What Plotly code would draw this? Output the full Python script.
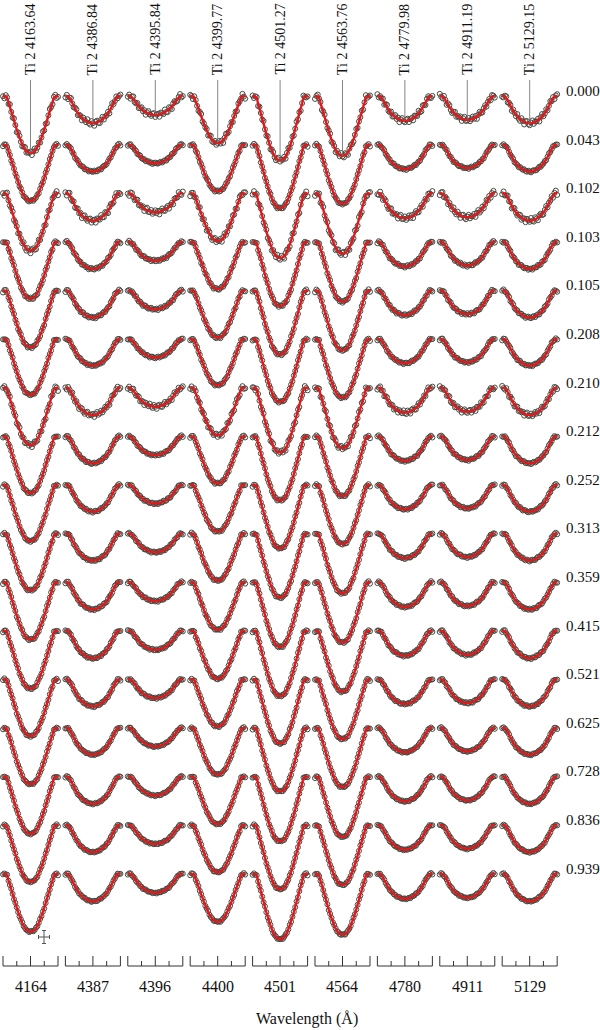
import numpy as np
import plotly.graph_objects as go

# ---------------- data ----------------
LINE_LABELS = ["Ti 2 4163.64", "Ti 2 4386.84", "Ti 2 4395.84", "Ti 2 4399.77", "Ti 2 4501.27",
               "Ti 2 4563.76", "Ti 2 4779.98", "Ti 2 4911.19", "Ti 2 5129.15"]
TICK_LABELS = ["4164", "4387", "4396", "4400", "4501", "4564", "4780", "4911", "5129"]
PHASES = ["0.000", "0.043", "0.102", "0.103", "0.105", "0.208", "0.210", "0.212", "0.252",
          "0.313", "0.359", "0.415", "0.521", "0.625", "0.728", "0.836", "0.939"]

# central depth of each line (normalised flux)
LINE_DEPTHS = [0.117, 0.056, 0.039, 0.097, 0.132, 0.123, 0.051, 0.049, 0.056]
LINE_TEMPLATE = ["deep", "shallow", "shallow", "deep", "deep", "deep", "shallow", "shallow", "shallow"]

# half profiles (relative depth) at dlam = -1.00, -0.95, ..., 0.00 A
DEEP_HALF = [0.02, 0.00, 0.01, 0.03, 0.12, 0.19, 0.27, 0.35, 0.43, 0.51, 0.59,
             0.66, 0.73, 0.79, 0.85, 0.90, 0.94, 0.97, 0.99, 0.998, 1.0]
SHALLOW_HALF = [0.02, 0.00, 0.02, 0.08, 0.16, 0.26, 0.36, 0.46, 0.55, 0.63, 0.70,
                0.76, 0.81, 0.85, 0.89, 0.92, 0.95, 0.97, 0.985, 0.997, 1.0]

# per-phase depth factor
DEPTH_SCALE = [1.00, 0.99, 1.01, 1.00, 1.00, 0.98, 1.01, 1.00, 0.99, 1.00, 1.01, 1.02,
               1.00, 0.99, 1.01, 1.00, 1.02]

# observed-minus-model residual pattern and its size per phase
RESID_PATTERN = [0.3, -0.8, 0.5, 0.1, -0.4, 0.9, -0.2, -0.6, 0.7, 0.0, -0.9, 0.4, 0.6, -0.3,
                 -0.7, 0.2, 0.8, -0.5, 0.1, -0.1, 0.5, -0.8, 0.3, 0.9, -0.4, -0.2, 0.6, -0.6,
                 0.0, 0.7, -0.3, 0.4, -0.9, 0.2, 0.8, -0.1, -0.5, 0.3, 0.6, -0.7, 0.1]
RESID_AMP = [0.006, 0.002, 0.006, 0.0025, 0.0025, 0.002, 0.005, 0.002, 0.002, 0.002, 0.002,
             0.002, 0.002, 0.0015, 0.0015, 0.0015, 0.0015]

# wavelength offset grid within each panel (A)
DLAM = np.linspace(-1.0, 1.0, 41)

# ---------------- layout constants ----------------
COL_STEP = 2.269     # panel spacing in plot units
ROW_STEP = 0.1       # vertical offset between phases
PX_X = 27.5          # px per plot x unit
PX_Y = 486.0         # px per flux unit
X0_PX = 30.5
Y0_PX = 96.0

def xr(px):
    return (px - X0_PX) / PX_X

def yr(px):
    return 1.0 - (px - Y0_PX) / PX_Y

TEMPLATES = {
    "deep": np.array(DEEP_HALF + DEEP_HALF[-2::-1]),
    "shallow": np.array(SHALLOW_HALF + SHALLOW_HALF[-2::-1]),
}

obs_x, obs_y, mod_x, mod_y = [], [], [], []
for r in range(len(PHASES)):
    cont = 1.0 - ROW_STEP * r
    for c in range(len(LINE_LABELS)):
        xc = c * COL_STEP
        model = cont - LINE_DEPTHS[c] * DEPTH_SCALE[r] * TEMPLATES[LINE_TEMPLATE[c]]
        resid = np.roll(np.array(RESID_PATTERN), 5 * r + 11 * c) * RESID_AMP[r]
        obs = model + resid
        mod_x += list(xc + DLAM) + [None]
        mod_y += list(model) + [None]
        obs_x += list(xc + DLAM) + [None]
        obs_y += list(obs) + [None]

fig = go.Figure()
fig.add_trace(go.Scatter(x=obs_x, y=obs_y, mode="markers",
                         marker=dict(symbol="circle-open", size=5, color="#474a42",
                                     line=dict(width=1, color="#474a42")),
                         hoverinfo="skip", showlegend=False))
fig.add_trace(go.Scatter(x=mod_x, y=mod_y, mode="lines", line_shape="spline",
                         line=dict(color="#e2191c", width=2.4),
                         hoverinfo="skip", showlegend=False))

# leader lines from labels to line cores
lx, ly = [], []
for c in range(len(LINE_LABELS)):
    xc = c * COL_STEP
    lx += [xc, xc, None]
    ly += [yr(80), 1.0 - LINE_DEPTHS[c] * DEPTH_SCALE[0], None]
fig.add_trace(go.Scatter(x=lx, y=ly, mode="lines", line=dict(color="#777777", width=0.9),
                         hoverinfo="skip", showlegend=False))

# wavelength brackets
bx, by = [], []
yb, ylong, yshort = yr(966), yr(956), yr(961)
for c in range(len(LINE_LABELS)):
    xc = c * COL_STEP
    bx += [xc - 1.0, xc + 1.0, None]
    by += [yb, yb, None]
    for t, top in [(-1.0, ylong), (-0.5, yshort), (0.0, ylong), (0.5, yshort), (1.0, ylong)]:
        bx += [xc + t, xc + t, None]
        by += [yb, top, None]
fig.add_trace(go.Scatter(x=bx, y=by, mode="lines", line=dict(color="#333333", width=1),
                         hoverinfo="skip", showlegend=False))

# typical error cross
fig.add_trace(go.Scatter(x=[xr(44)], y=[yr(937)], mode="markers",
                         marker=dict(size=1, color="rgba(0,0,0,0)"),
                         error_x=dict(type="constant", value=0.2, color="#555555", thickness=1, width=2),
                         error_y=dict(type="constant", value=0.0134, color="#555555", thickness=1, width=2),
                         hoverinfo="skip", showlegend=False))

SERIF = "Liberation Serif"
ann = []
for c, lab in enumerate(LINE_LABELS):
    ann.append(dict(x=c * COL_STEP, y=yr(77), text=lab, textangle=-90, showarrow=False,
                    xanchor="center", yanchor="bottom", font=dict(family=SERIF, size=14, color="#111")))
for c, lab in enumerate(TICK_LABELS):
    ann.append(dict(x=c * COL_STEP, y=yr(986), text=lab, showarrow=False,
                    xanchor="center", yanchor="middle", font=dict(family=SERIF, size=16, color="#111")))
for r, ph in enumerate(PHASES):
    ann.append(dict(x=xr(564), y=1.0 - ROW_STEP * r + 5 / PX_Y, text=ph, showarrow=False,
                    xanchor="left", yanchor="middle", font=dict(family=SERIF, size=15, color="#111")))
ann.append(dict(x=xr(307), y=yr(1019), text="Wavelength (Å)", showarrow=False,
                xanchor="center", yanchor="middle", font=dict(family=SERIF, size=16, color="#111")))

fig.update_layout(
    width=600, height=1030,
    margin=dict(l=0, r=0, t=0, b=0),
    paper_bgcolor="white", plot_bgcolor="white",
    font=dict(family=SERIF),
    xaxis=dict(visible=False, range=[xr(0), xr(600)], fixedrange=True),
    yaxis=dict(visible=False, range=[yr(1030), yr(0)], fixedrange=True),
    annotations=ann,
    showlegend=False,
)
fig.write_html("out.html", config={"displayModeBar": False},
               post_script="document.body.style.margin='0';document.body.style.padding='0';"
                           "document.body.style.overflow='hidden';")
